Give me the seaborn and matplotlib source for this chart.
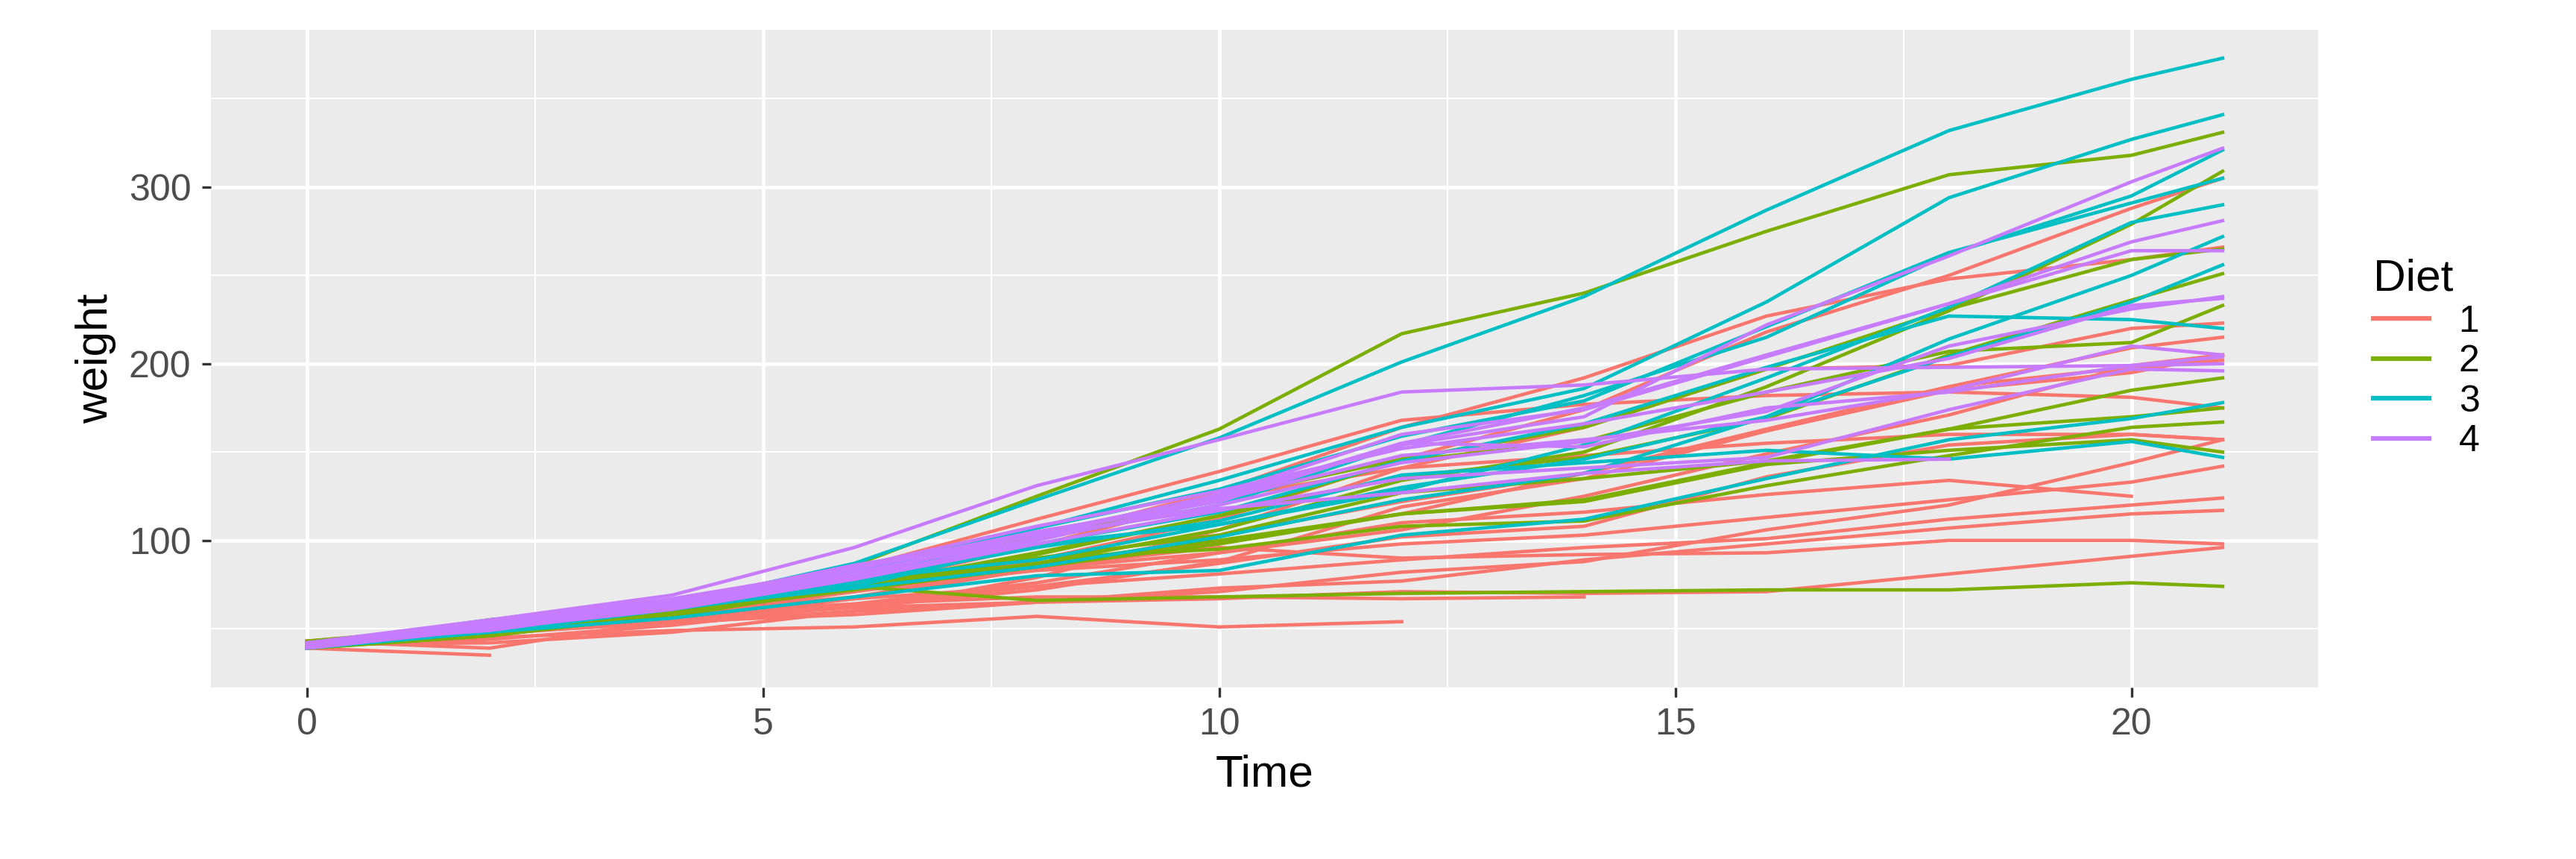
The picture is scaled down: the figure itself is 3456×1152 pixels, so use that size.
import numpy as np
import pandas as pd
import seaborn as sns
from matplotlib import pyplot as plt

times = [0, 2, 4, 6, 8, 10, 12, 14, 16, 18, 20, 21]
diet_of_chick = [1] * 20 + [2] * 10 + [3] * 10 + [4] * 10
weights = [
    [42, 51, 59, 64, 76, 93, 106, 125, 149, 171, 199, 205],
    [40, 49, 58, 72, 84, 103, 122, 138, 162, 187, 209, 215],
    [43, 39, 55, 67, 84, 99, 115, 138, 163, 187, 198, 202],
    [42, 49, 56, 67, 74, 87, 102, 108, 136, 154, 160, 157],
    [41, 42, 48, 60, 79, 106, 141, 164, 197, 199, 220, 223],
    [41, 49, 59, 74, 97, 124, 141, 148, 155, 160, 160, 157],
    [41, 49, 57, 71, 89, 112, 146, 174, 218, 250, 288, 305],
    [42, 50, 61, 71, 84, 93, 110, 116, 126, 134, 125],
    [42, 51, 59, 68, 85, 96, 90, 92, 93, 100, 100, 98],
    [41, 44, 52, 63, 74, 81, 89, 96, 101, 112, 120, 124],
    [43, 51, 63, 84, 112, 139, 168, 177, 182, 184, 181, 175],
    [41, 49, 56, 62, 72, 88, 119, 135, 162, 185, 195, 205],
    [41, 48, 53, 60, 65, 67, 71, 70, 71, 81, 91, 96],
    [41, 49, 62, 79, 101, 128, 164, 192, 227, 248, 259, 266],
    [41, 49, 56, 64, 68, 68, 67, 68],
    [41, 45, 49, 51, 57, 51, 54],
    [42, 51, 61, 72, 83, 89, 98, 103, 113, 123, 133, 142],
    [39, 35],
    [43, 48, 55, 62, 65, 71, 82, 88, 106, 120, 144, 157],
    [41, 47, 54, 58, 65, 73, 77, 89, 98, 107, 115, 117],
    [40, 50, 62, 86, 125, 163, 217, 240, 275, 307, 318, 331],
    [41, 55, 64, 77, 90, 95, 108, 111, 131, 148, 164, 167],
    [43, 52, 61, 73, 90, 103, 127, 135, 145, 163, 170, 175],
    [42, 52, 58, 74, 66, 68, 70, 71, 72, 72, 76, 74],
    [40, 49, 62, 78, 102, 124, 146, 164, 197, 231, 259, 265],
    [42, 48, 57, 74, 93, 114, 136, 147, 169, 205, 236, 251],
    [39, 46, 58, 73, 87, 100, 115, 123, 144, 163, 185, 192],
    [39, 46, 58, 73, 92, 114, 145, 156, 184, 207, 212, 233],
    [39, 48, 59, 74, 87, 106, 134, 150, 187, 230, 279, 309],
    [42, 48, 59, 72, 85, 98, 115, 122, 143, 151, 157, 150],
    [42, 53, 62, 73, 85, 102, 123, 138, 170, 204, 235, 256],
    [41, 49, 65, 82, 107, 129, 159, 179, 221, 263, 291, 305],
    [39, 50, 63, 77, 96, 111, 137, 144, 151, 146, 156, 147],
    [41, 49, 63, 85, 107, 134, 164, 186, 235, 294, 327, 341],
    [41, 53, 64, 87, 123, 158, 201, 238, 287, 332, 361, 373],
    [39, 48, 61, 76, 98, 116, 145, 166, 198, 227, 225, 220],
    [41, 48, 56, 68, 80, 83, 103, 112, 135, 157, 169, 178],
    [41, 49, 61, 74, 98, 109, 128, 154, 192, 232, 280, 290],
    [42, 50, 61, 78, 89, 109, 130, 146, 170, 214, 250, 272],
    [41, 55, 66, 79, 101, 120, 154, 182, 215, 262, 295, 321],
    [42, 51, 66, 85, 103, 124, 155, 153, 175, 184, 199, 204],
    [42, 49, 63, 84, 103, 126, 160, 174, 204, 234, 269, 281],
    [42, 55, 69, 96, 131, 157, 184, 188, 197, 198, 199, 200],
    [42, 51, 65, 86, 103, 118, 127, 138, 145, 146],
    [41, 50, 61, 78, 98, 117, 135, 141, 147, 174, 197, 196],
    [40, 52, 62, 82, 101, 120, 144, 156, 173, 210, 231, 238],
    [41, 53, 66, 79, 100, 123, 148, 157, 168, 185, 210, 205],
    [39, 50, 62, 80, 104, 125, 154, 170, 222, 261, 303, 322],
    [40, 53, 64, 85, 108, 128, 152, 166, 184, 203, 233, 237],
    [41, 54, 67, 84, 105, 122, 155, 175, 205, 234, 264, 264],
]

rows = []
for chick, (diet, w) in enumerate(zip(diet_of_chick, weights), start=1):
    for t, v in zip(times, w):
        rows.append({"Time": t, "weight": v, "Chick": chick, "Diet": str(diet)})
df = pd.DataFrame(rows)

palette = {"1": "#F8766D", "2": "#7CAE00", "3": "#00BFC4", "4": "#C77CFF"}

plt.rcParams["font.family"] = ["Liberation Sans", "DejaVu Sans"]

fig, ax = plt.subplots(figsize=(11.52, 3.84), dpi=300)
ax.set_facecolor("#EBEBEB")
sns.lineplot(data=df, x="Time", y="weight", hue="Diet", units="Chick",
             estimator=None, palette=palette, linewidth=1.1, ax=ax)

ax.set_xlim(-1.05, 22.05)
ax.set_ylim(16.9, 388.9)
ax.set_xticks([0, 5, 10, 15, 20])
ax.set_yticks([100, 200, 300])
ax.set_xticks([2.5, 7.5, 12.5, 17.5], minor=True)
ax.set_yticks([50, 150, 250, 350], minor=True)
ax.grid(which="major", color="white", linewidth=1.1)
ax.grid(which="minor", color="white", linewidth=0.5)
ax.set_axisbelow(True)
for s in ax.spines.values():
    s.set_visible(False)
ax.tick_params(which="major", length=3, color="#333333", labelcolor="#4D4D4D", labelsize=12)
ax.tick_params(which="minor", length=0)
ax.set_xlabel("Time", fontsize=14.5)
ax.set_ylabel("weight", fontsize=14.5)

leg = ax.legend(title="Diet", loc="center left", bbox_to_anchor=(1.01, 0.5),
                frameon=False, fontsize=12, title_fontsize=14.5, handlelength=1.5,
                labelspacing=0.15)
leg._legend_box.align = "left"
for h in leg.legend_handles:
    h.set_linewidth(1.5)

fig.subplots_adjust(left=0.082, right=0.90, top=0.965, bottom=0.2)
fig.savefig("out.png", dpi=300, facecolor="white")
